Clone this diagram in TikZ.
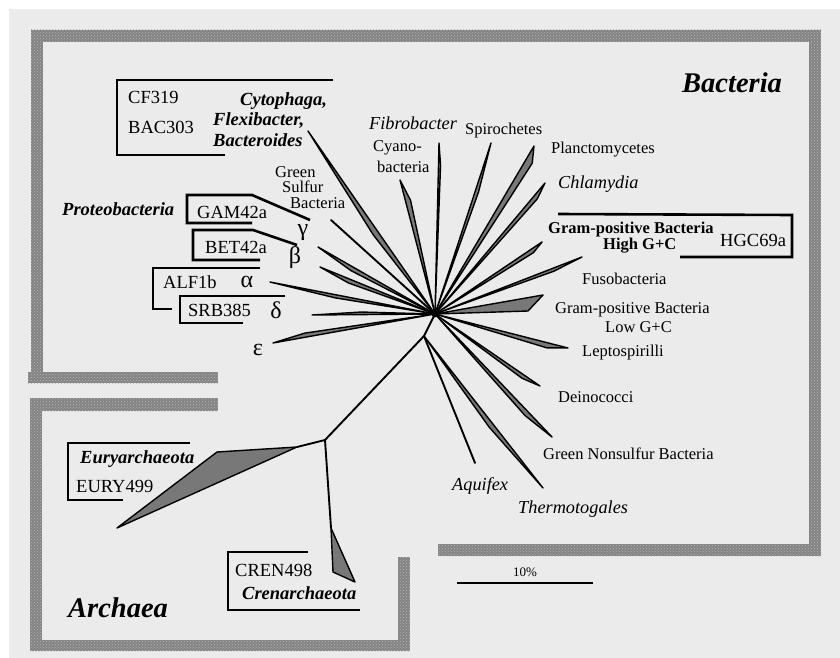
\documentclass[tikz,border=0pt]{standalone}
\usepackage{fontspec}
\setmainfont{Liberation Serif}
\usetikzlibrary{calc,patterns}
\definecolor{bg}{RGB}{235,235,235}
\definecolor{bandgray}{RGB}{132,132,132}
\definecolor{speck}{RGB}{180,180,180}
\definecolor{wfill}{RGB}{120,120,120}
\begin{document}
\begin{tikzpicture}[x=1pt,y=-1pt,
  lbl/.style={anchor=west, inner sep=0pt, font=\fontsize{16.5}{18}\selectfont},
  lblb/.style={anchor=west, inner sep=0pt, font=\fontsize{16.5}{18}\selectfont\bfseries},
  probe/.style={anchor=west, inner sep=0pt, font=\fontsize{18.5}{20}\selectfont},
  ital/.style={anchor=west, inner sep=0pt, font=\fontsize{18.3}{20}\selectfont\itshape},
  bi/.style={anchor=west, inner sep=0pt, font=\fontsize{18.5}{20}\selectfont\bfseries\itshape},
  big/.style={anchor=west, inner sep=0pt, font=\fontsize{28.5}{30}\selectfont\bfseries\itshape},
  greek/.style={anchor=center, inner sep=0pt, font=\fontsize{24}{26}\selectfont},
  bracket/.style={line width=2.6pt, line join=miter, draw=black},
  branch/.style={line width=1.9pt, line cap=round, draw=black},
  wedgest/.style={fill=wfill, draw=black, line width=1.4pt, line join=round},
  band/.style={fill=bandgray},
  bandtex/.style={pattern=crosshatch dots, pattern color=speck}
]
\useasboundingbox (0,0) rectangle (840,658);
\fill[white] (0,0) rectangle (840,658);
\fill[bg] (9,9) rectangle (840,658);

% ---------- frames ----------
\foreach \a/\b/\c/\d in {31/30/821/42, 31/30/43/383, 28/372/218/383, 809/30/821/556, 438/544/821/556,
                         30/398/218/411, 30/398/42/651, 30/640/410/651, 398/557/410/651}{
  \fill[band] (\a,\b) rectangle (\c,\d);
  \fill[bandtex] (\a,\b) rectangle (\c,\d);
}

% ---------- tree coordinates ----------
\coordinate (H) at (435,314);
\coordinate (R) at (424,336);
\coordinate (A) at (325,440);
\coordinate (tCyt) at (308,131);
\coordinate (tGSB) at (331,220);
\coordinate (tGam) at (318,247);
\coordinate (tBet) at (320,267);
\coordinate (tAlf) at (270,282);
\coordinate (tDel) at (312,315);
\coordinate (tEps) at (273,343);
\coordinate (tCya) at (400,180);
\coordinate (tFib) at (439,143);
\coordinate (tSpi) at (491,143);
\coordinate (tPla) at (534,146);
\coordinate (tChl) at (545,183);
\coordinate (tHGC) at (542,242);
\coordinate (tFus) at (582,257);
\coordinate (tLo1) at (543,295);
\coordinate (tLo2) at (528,311);
\coordinate (tLep) at (568,348);
\coordinate (tDei) at (540,386);
\coordinate (tGNS) at (552,437);
\coordinate (tThe) at (543,488);
\coordinate (tAqu) at (475,463);
\coordinate (eA) at (297,447);
\coordinate (eB) at (217,452);
\coordinate (eC) at (117,528);
\coordinate (cA) at (331,528);
\coordinate (cB) at (333,572);
\coordinate (cC) at (355,582);

% ---------- wedges ----------
\filldraw[wedgest] (H) -- (tCyt) -- ($(H)!0.45!3.2:(tCyt)$) -- cycle;
\filldraw[wedgest] (H) -- (tGam) -- ($(H)!0.7!2.5:(tGam)$) -- cycle;
\filldraw[wedgest] (H) -- (tBet) -- ($(H)!0.74!2.5:(tBet)$) -- cycle;
\filldraw[wedgest] (H) -- (tAlf) -- ($(H)!0.6!1.8:(tAlf)$) -- cycle;
\filldraw[wedgest] (H) -- (tDel) -- ($(H)!0.6!-2:(tDel)$) -- cycle;
\filldraw[wedgest] (H) -- (tEps) -- ($(H)!0.8!-1.8:(tEps)$) -- cycle;
\filldraw[wedgest] (H) -- (tCya) -- ($(H)!0.84!-2.5:(tCya)$) -- cycle;
\filldraw[wedgest] (H) -- (tFib) -- ($(H)!0.87!-0.8:(tFib)$) -- cycle;
\filldraw[wedgest] (H) -- (tSpi) -- ($(H)!0.72!-1.5:(tSpi)$) -- cycle;
\filldraw[wedgest] (H) -- (tPla) -- ($(H)!0.92!-2.3:(tPla)$) -- cycle;
\filldraw[wedgest] (H) -- (tChl) -- ($(H)!0.9!-1.6:(tChl)$) -- cycle;
\filldraw[wedgest] (H) -- (tHGC) -- ($(H)!0.9!-2:(tHGC)$) -- cycle;
\filldraw[wedgest] (H) -- (tFus) -- ($(H)!0.8!-1.4:(tFus)$) -- cycle;
\filldraw[wedgest] (H) -- (tLo1) -- (tLo2) -- cycle;
\filldraw[wedgest] (H) -- (tLep) -- ($(H)!0.85!-2.5:(tLep)$) -- cycle;
\filldraw[wedgest] (H) -- (tDei) -- ($(H)!0.85!-2:(tDei)$) -- cycle;
\filldraw[wedgest] (H) -- (tGNS) -- ($(H)!0.8!-2:(tGNS)$) -- cycle;
\filldraw[wedgest] (R) -- (tThe) -- ($(R)!0.58!-2.5:(tThe)$) -- cycle;

% ---------- plain branches ----------
\draw[branch] (H) -- (tGSB);
\draw[branch] (H) -- (R);
\draw[branch] (R) -- (tAqu);
\draw[branch] (R) -- (A);
\draw[branch] (A) -- (eA);
\draw[branch] (A) -- (cA);
\filldraw[wedgest] (eA) -- (eB) -- (eC) -- cycle;
\filldraw[wedgest] (cA) -- (cB) -- (cC) -- cycle;
\fill[black] (H) circle (3.4);

% ---------- brackets ----------
\draw[bracket] (333,80) -- (117,80) -- (117,155) -- (225,155);
\draw[bracket] (310,220) -- (252,195) -- (187,195) -- (187,223) -- (252,223);
\draw[bracket] (297,245) -- (253,230) -- (193,230) -- (193,260) -- (260,260);
\draw[bracket] (260,268) -- (153,268) -- (153,309) -- (172,309);
\draw[bracket] (285,296) -- (180,296) -- (180,323) -- (243,323);
\draw[bracket] (558,214) -- (792,215) -- (792,257) -- (680,257);
\draw[bracket] (190,443) -- (68,443) -- (68,500) -- (123,500);
\draw[bracket] (308,552) -- (228,552) -- (228,610) -- (360,610);

% ---------- scale bar ----------
\coordinate (s1) at (457,583);
\coordinate (s2) at (593,583);
\draw[line width=1.4pt] (s1) -- (s2);
\node[anchor=center, inner sep=0pt, font=\fontsize{13}{14}\selectfont] (ten) at (525,572) {10\%};

% ---------- labels ----------
\node[big] (nBac) at (682,83) {Bacteria};
\node[big] (nArc) at (68,608) {Archaea};

\node[probe] (nCF) at (128,97) {CF319};
\node[probe] (nBAC) at (128,127) {BAC303};
\node[bi] (nCyt) at (240,101) {Cytophaga,};
\node[bi] (nFle) at (213,121) {Flexibacter,};
\node[bi] (nBct) at (213,140) {Bacteroides};

\node[bi] (nPro) at (62,209) {Proteobacteria};
\node[probe] (nGAM) at (197,212) {GAM42a};
\node[probe] (nBET) at (205,247) {BET42a};
\node[probe] (nALF) at (163,282) {ALF1b};
\node[probe] (nSRB) at (188,310) {SRB385};
\node[greek] (gG) at (303,233) {γ};
\node[greek] (gB) at (295,258) {β};
\node[greek] (gA) at (247,282) {α};
\node[greek] (gD) at (276,310) {δ};
\node[greek] (gE) at (258,350) {ε};

\node[lbl] (nGr) at (275,172) {Green};
\node[lbl] (nSu) at (282,187) {Sulfur};
\node[lbl] (nBa) at (290,203) {Bacteria};

\node[ital] (nFib) at (369,123) {Fibrobacter};
\node[lbl] (nCy1) at (373,148) {Cyano-};
\node[lbl] (nCy2) at (377,167) {bacteria};
\node[lbl] (nSpi) at (465,131) {Spirochetes};
\node[lbl] (nPla) at (551,150) {Planctomycetes};
\node[ital] (nChl) at (558,184) {Chlamydia};

\node[lblb] (nHG1) at (548,230) {Gram-positive Bacteria};
\node[lblb] (nHG2) at (603,246) {High G+C};
\node[probe] (nHGC) at (720,240) {HGC69a};
\node[lbl] (nFus) at (582,279) {Fusobacteria};
\node[lbl] (nLG1) at (555,310) {Gram-positive Bacteria};
\node[lbl] (nLG2) at (605,327) {Low G+C};
\node[lbl] (nLep) at (582,353) {Leptospirilli};
\node[lbl] (nDei) at (558,397) {Deinococci};
\node[lbl] (nGNS) at (543,454) {Green Nonsulfur Bacteria};
\node[ital] (nAqu) at (452,486) {Aquifex};
\node[ital] (nThe) at (518,509) {Thermotogales};

\node[bi] (nEur) at (80,459) {Euryarchaeota};
\node[probe] (nEURY) at (76,486) {EURY499};
\node[probe] (nCREN) at (235,570) {CREN498};
\node[bi] (nCre) at (242,593) {Crenarchaeota};
\end{tikzpicture}
\end{document}
